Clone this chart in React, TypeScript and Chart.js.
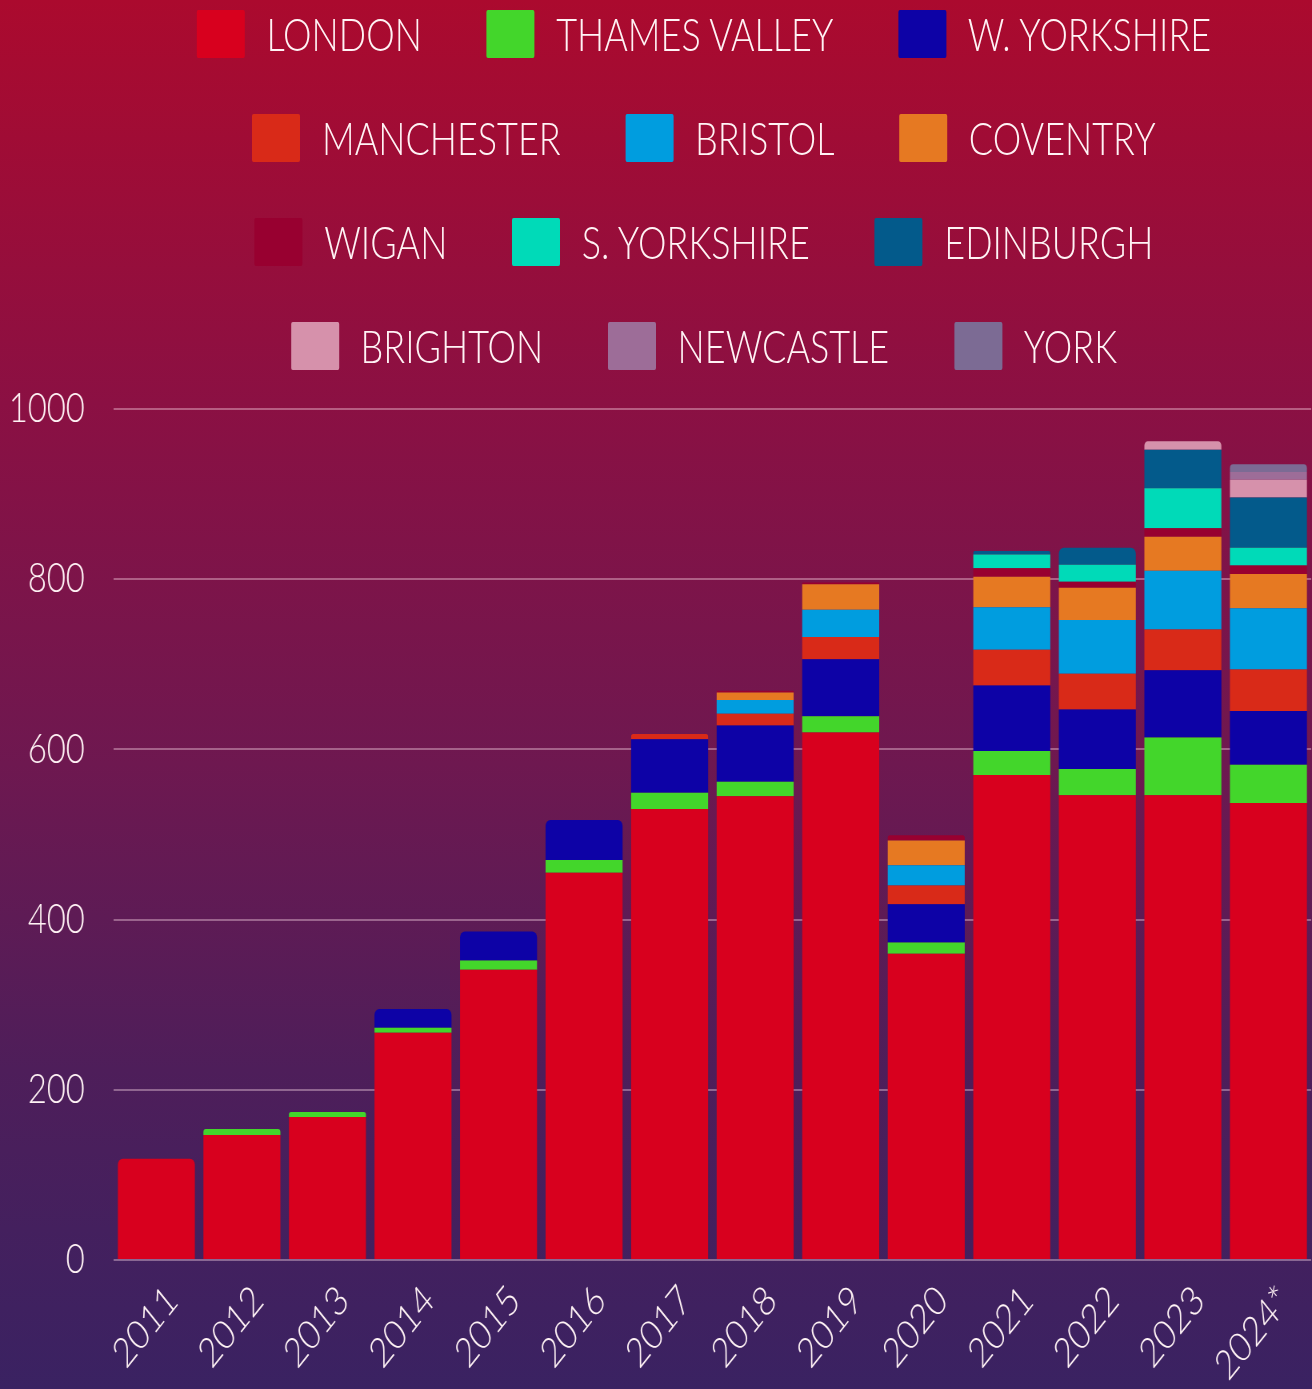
import React, { useEffect, useRef } from 'react';
import { Chart, registerables } from 'chart.js';

Chart.register(...registerables);

// ---- Data ----
const YEARS = ['2011', '2012', '2013', '2014', '2015', '2016', '2017', '2018', '2019', '2020', '2021', '2022', '2023', '2024*'];

const LONDON = [119, 147, 168, 267, 341, 455, 530, 545, 620, 360, 570, 546, 546, 537];
const THAMES_VALLEY = [0, 7, 6, 6, 11, 15, 19, 17, 19, 13, 28, 31, 68, 45];
const W_YORKSHIRE = [0, 0, 0, 22, 34, 47, 63, 66, 67, 45, 77, 70, 79, 63];
const MANCHESTER = [0, 0, 0, 0, 0, 0, 6, 14, 26, 22, 42, 42, 48, 49];
const BRISTOL = [0, 0, 0, 0, 0, 0, 0, 16, 32, 24, 50, 63, 69, 72];
const COVENTRY = [0, 0, 0, 0, 0, 0, 0, 9, 30, 29, 36, 38, 40, 40];
const WIGAN = [0, 0, 0, 0, 0, 0, 0, 2, 2, 6, 10, 7, 10, 10];
const S_YORKSHIRE = [0, 0, 0, 0, 0, 0, 0, 0, 0, 0, 16, 20, 47, 21];
const EDINBURGH = [0, 0, 0, 0, 0, 0, 0, 0, 0, 0, 4, 20, 45, 59];
const BRIGHTON = [0, 0, 0, 0, 0, 0, 0, 0, 0, 0, 0, 0, 10, 21];
const NEWCASTLE = [0, 0, 0, 0, 0, 0, 0, 0, 0, 0, 0, 0, 0, 9];
const YORK = [0, 0, 0, 0, 0, 0, 0, 0, 0, 0, 0, 0, 0, 9];

const SERIES_NAMES = [
  'LONDON', 'THAMES VALLEY', 'W. YORKSHIRE',
  'MANCHESTER', 'BRISTOL', 'COVENTRY',
  'WIGAN', 'S. YORKSHIRE', 'EDINBURGH',
  'BRIGHTON', 'NEWCASTLE', 'YORK',
];

const SERIES_COLORS = [
  '#d8001e', '#43d62b', '#0d02a6',
  '#d92a18', '#009ddf', '#e67922',
  '#980030', '#00dab8', '#035a8b',
  '#d691ab', '#9d6d98', '#7c6b94',
];

const Y_MIN = 0;
const Y_MAX = 1000;
const Y_STEP = 200;

// ---- Layout / style ----
const PAGE_W = 1312;
const PAGE_H = 1389;
const SQUASH = 0.8;
const INNER_W = PAGE_W / SQUASH;
const TEXT_COLOR = '#fff3f5';
const FONT = 'Lato';

export default function App() {
  const canvasRef = useRef<HTMLCanvasElement | null>(null);

  useEffect(() => {
    const seriesValues = [
      LONDON, THAMES_VALLEY, W_YORKSHIRE,
      MANCHESTER, BRISTOL, COVENTRY,
      WIGAN, S_YORKSHIRE, EDINBURGH,
      BRIGHTON, NEWCASTLE, YORK,
    ];
    const topIndex = YEARS.map((_, i) => {
      let t = -1;
      seriesValues.forEach((s, d) => {
        if (s[i] > 0) t = d;
      });
      return t;
    });

    const canvas = canvasRef.current!;
    const chart = new Chart(canvas, {
      type: 'bar',
      data: {
        labels: YEARS,
        datasets: SERIES_NAMES.map((name, d) => ({
          label: name,
          data: seriesValues[d],
          backgroundColor: SERIES_COLORS[d],
          borderWidth: 0,
          borderSkipped: 'start',
          borderRadius: (ctx: any) => (topIndex[ctx.dataIndex] === ctx.datasetIndex ? 6 : 0),
          barPercentage: 0.9,
          categoryPercentage: 1,
        })),
      },
      options: {
        responsive: false,
        animation: false,
        devicePixelRatio: 1,
        events: [],
        layout: { padding: { top: 409, left: 0, right: 1, bottom: 0 } },
        plugins: {
          legend: { display: false },
          tooltip: { enabled: false },
          title: { display: false },
        },
        scales: {
          x: {
            stacked: true,
            grid: { display: false },
            border: { display: false },
            ticks: {
              color: TEXT_COLOR,
              font: { family: FONT, size: 41, weight: '300' },
              minRotation: 45,
              maxRotation: 45,
              autoSkip: false,
              padding: 8,
              labelOffset: 20,
            },
            afterFit: (s: any) => {
              s.height = 129;
            },
          },
          y: {
            stacked: true,
            min: Y_MIN,
            max: Y_MAX,
            grid: { color: 'rgba(255,220,235,0.38)', lineWidth: 2, drawTicks: false },
            border: { display: false },
            ticks: {
              stepSize: Y_STEP,
              color: TEXT_COLOR,
              font: { family: FONT, size: 41, weight: '300' },
              padding: 36,
              callback: (v: any) => String(v),
            },
            afterFit: (s: any) => {
              s.width = 142;
            },
          },
        },
      },
    } as any);

    return () => chart.destroy();
  }, []);

  const rows: number[][] = [];
  for (let i = 0; i < SERIES_NAMES.length; i += 3) {
    rows.push([i, i + 1, i + 2].filter((k) => k < SERIES_NAMES.length));
  }

  return (
    <div
      style={{
        position: 'fixed',
        left: 0,
        top: 0,
        width: PAGE_W,
        height: PAGE_H,
        overflow: 'hidden',
        background:
          'linear-gradient(to bottom, #ab0a2e 0%, #8b1043 29%, #6e1850 55%, #4e1e5a 77%, #3a2262 100%)',
      }}
    >
      <div
        style={{
          position: 'absolute',
          left: 0,
          top: 0,
          width: INNER_W,
          height: PAGE_H,
          transform: `scaleX(${SQUASH})`,
          transformOrigin: '0 0',
        }}
      >
        {rows.map((row, r) => (
          <div
            key={r}
            style={{
              position: 'absolute',
              left: 120,
              width: INNER_W - 120,
              top: 10 + r * 104,
              height: 48,
              display: 'flex',
              justifyContent: 'center',
              alignItems: 'center',
            }}
          >
            {row.map((k, j) => (
              <div
                key={k}
                style={{ display: 'flex', alignItems: 'center', marginLeft: j ? 81 : 0 }}
              >
                <span
                  style={{
                    display: 'inline-block',
                    width: 60,
                    height: 48,
                    background: SERIES_COLORS[k],
                    borderRadius: 2,
                  }}
                />
                <span
                  style={{
                    marginLeft: 27,
                    fontFamily: FONT,
                    fontWeight: 300,
                    fontSize: 45,
                    lineHeight: '48px',
                    color: TEXT_COLOR,
                    whiteSpace: 'nowrap',
                  }}
                >
                  {SERIES_NAMES[k]}
                </span>
              </div>
            ))}
          </div>
        ))}
        <canvas
          ref={canvasRef}
          width={INNER_W}
          height={PAGE_H}
          style={{ position: 'absolute', left: 0, top: 0, width: INNER_W, height: PAGE_H, display: 'block' }}
        />
      </div>
    </div>
  );
}
